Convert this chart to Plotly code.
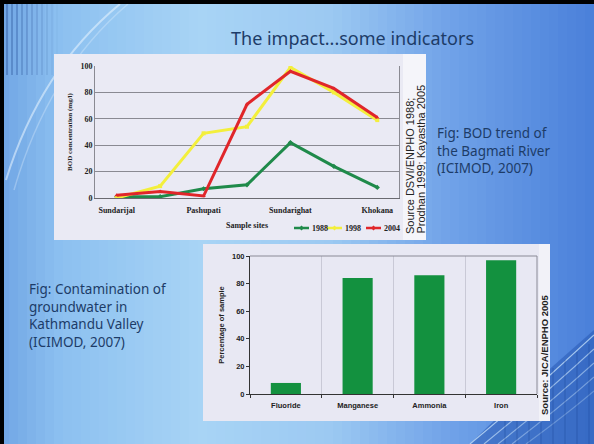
import plotly.graph_objects as go

# ---------------- data ----------------
site_points = ["Sundarijal", "Sundarijal-Pashupati", "Pashupati", "Pashupati-Sundarighat",
               "Sundarighat", "Sundarighat-Khokana", "Khokana"]
site_labels = ["Sundarijal", "Pashupati", "Sundarighat", "Khokana"]
years = ["1988", "1998", "2004"]
bod_1988 = [1, 1, 7, 10, 42, 24, 8]
bod_1998 = [0, 9, 49, 54, 99, 80, 59]
bod_2004 = [2, 5, 1.5, 71, 96, 83, 61]
bod_ticks = [0, 20, 40, 60, 80, 100]

contaminants = ["Fluoride", "Manganese", "Ammonia", "Iron"]
pct_samples = [8, 84, 86, 97]
pct_ticks = [0, 20, 40, 60, 80, 100]

W, H = 594, 444
year_colors = ["#1f8a4a", "#f3ef3c", "#e0262a"]


def px(x):
    return x / W


def py(y):
    return 1 - y / H


def lerp_color(stops, x):
    for (x0, c0), (x1, c1) in zip(stops, stops[1:]):
        if x0 <= x <= x1:
            t = (x - x0) / (x1 - x0)
            return "rgb(%d,%d,%d)" % tuple(round(a + (b - a) * t) for a, b in zip(c0, c1))
    return "rgb(%d,%d,%d)" % stops[-1][1]


bg_stops = [(0, (112, 165, 228)), (60, (140, 192, 240)), (200, (168, 212, 245)),
            (330, (156, 201, 242)), (450, (112, 162, 232)), (594, (74, 128, 218))]

shapes = []
N = 66
for i in range(N):
    x0 = W * i / N
    x1 = W * (i + 1) / N
    shapes.append(dict(type="rect", xref="paper", yref="paper", layer="below",
                       x0=px(x0), x1=px(x1) + 0.002, y0=0, y1=1,
                       fillcolor=lerp_color(bg_stops, (x0 + x1) / 2), line=dict(width=0)))

# top-left vertical stripes
for i, xs in enumerate(range(6, 60, 5)):
    op = 0.35 * (1 - i / 11)
    shapes.append(dict(type="rect", xref="paper", yref="paper", layer="below",
                       x0=px(xs), x1=px(xs + 2), y0=py(75), y1=py(4),
                       fillcolor="rgba(30,70,140,%.2f)" % op, line=dict(width=0)))


def path_px(cmds):
    out = []
    for c in cmds:
        if isinstance(c, str):
            out.append(c)
        else:
            out.append("%.4f,%.4f" % (px(c[0]), py(c[1])))
    return " ".join(out)


# arc decoration
shapes.append(dict(type="path", xref="paper", yref="paper", layer="below",
                   path=path_px(["M", (120, 4), "Q", (40, 70), (6, 180)]),
                   line=dict(color="rgba(235,245,255,0.55)", width=2)))
shapes.append(dict(type="path", xref="paper", yref="paper", layer="below",
                   path=path_px(["M", (128, 4), "Q", (48, 72), (14, 190)]),
                   line=dict(color="rgba(235,245,255,0.3)", width=1.5)))

# bottom-right decoration
shapes.append(dict(type="path", xref="paper", yref="paper", layer="below",
                   path=path_px(["M", (470, 444), "Q", (530, 385), (594, 330), "L", (594, 444), "Z"]),
                   fillcolor="rgba(40,90,180,0.55)", line=dict(width=0)))
for k in range(5):
    shapes.append(dict(type="path", xref="paper", yref="paper", layer="below",
                       path=path_px(["M", (470 + 14 * k, 444), "Q", (535 + 8 * k, 390 + 6 * k), (594, 335 + 14 * k)]),
                       line=dict(color="rgba(210,235,255,%.2f)" % (0.7 - 0.1 * k), width=1.2)))
for k in range(8):
    xs = 505 + 12 * k
    shapes.append(dict(type="line", xref="paper", yref="paper", layer="below",
                       x0=px(xs), x1=px(xs), y0=py(444), y1=py(400 - 8 * k),
                       line=dict(color="rgba(20,60,140,0.35)", width=1)))

# black slide frame
shapes.append(dict(type="rect", xref="paper", yref="paper", layer="below",
                   x0=0, x1=1, y0=py(4), y1=1, fillcolor="black", line=dict(width=0)))
shapes.append(dict(type="rect", xref="paper", yref="paper", layer="below",
                   x0=0, x1=px(4), y0=0, y1=1, fillcolor="black", line=dict(width=0)))

# chart panels
shapes.append(dict(type="rect", xref="paper", yref="paper", layer="below",
                   x0=px(54), x1=px(426), y0=py(240), y1=py(54),
                   fillcolor="#eaeaf4", line=dict(width=0)))
shapes.append(dict(type="rect", xref="paper", yref="paper", layer="below",
                   x0=px(403), x1=px(426), y0=py(240), y1=py(54),
                   fillcolor="#f5f5fa", line=dict(width=0)))
shapes.append(dict(type="rect", xref="paper", yref="paper", layer="below",
                   x0=px(203), x1=px(550), y0=py(421), y1=py(244),
                   fillcolor="#e8e8f3", line=dict(width=0)))
shapes.append(dict(type="rect", xref="paper", yref="paper", layer="below",
                   x0=px(539), x1=px(550), y0=py(421), y1=py(244),
                   fillcolor="#f2f2f8", line=dict(width=0)))

# bar chart top/right frame
shapes.append(dict(type="path", xref="x2 domain", yref="y2 domain", layer="above",
                   path="M 0,1 L 1,1 L 1,0", line=dict(color="#8a8a96", width=1)))

serif_b = dict(family="Liberation Serif", size=8, color="#222222", weight="bold")
sans_t = dict(family="Liberation Sans", size=7.5, color="#222222", weight="bold")

# compact legend for the line chart (Excel style: short line + marker + label)
legend_x = [294, 327, 366]
legend_y = 228
annots = []
for yr, col, lx in zip(years, year_colors, legend_x):
    shapes.append(dict(type="line", xref="paper", yref="paper", layer="above",
                       x0=px(lx), x1=px(lx + 15), y0=py(legend_y), y1=py(legend_y),
                       line=dict(color=col, width=2.5)))
    shapes.append(dict(type="path", xref="paper", yref="paper", layer="above",
                       path=path_px(["M", (lx + 7.5, legend_y - 2.5), "L", (lx + 10, legend_y),
                                     "L", (lx + 7.5, legend_y + 2.5), "L", (lx + 5, legend_y), "Z"]),
                       fillcolor=col, line=dict(width=0)))
    annots.append(dict(text=yr, x=px(lx + 16), y=py(legend_y), xanchor="left", yanchor="middle",
                       font=serif_b))

fig = go.Figure()

for yr, vals, col, sym in zip(years, [bod_1988, bod_1998, bod_2004], year_colors,
                              ["diamond", "square", "triangle-up"]):
    fig.add_trace(go.Scatter(x=site_points, y=vals, name=yr, mode="lines+markers",
                             line=dict(color=col, width=3), marker=dict(size=4, symbol=sym),
                             showlegend=False, xaxis="x", yaxis="y"))

fig.add_trace(go.Bar(x=contaminants, y=pct_samples, marker=dict(color="#13913f", line=dict(width=0)),
                     width=0.42, showlegend=False, xaxis="x2", yaxis="y2"))

fig.update_layout(
    width=W, height=H,
    margin=dict(l=0, r=0, t=0, b=0, autoexpand=False),
    paper_bgcolor="#8cc0f0",
    plot_bgcolor="rgba(0,0,0,0)",
    shapes=shapes,
    showlegend=False,
    xaxis=dict(domain=[px(95), px(399)], anchor="y", type="category", automargin=False,
               categoryorder="array", categoryarray=site_points,
               range=[-0.5, 6.5], tickvals=[site_points[0], site_points[2], site_points[4], site_points[6]],
               ticktext=site_labels, showgrid=False, showline=True, linecolor="#6a6a70", linewidth=1,
               ticks="", tickfont=serif_b, zeroline=False, ticklabelstandoff=4,
               title=dict(text="Sample sites", font=serif_b, standoff=8)),
    yaxis=dict(domain=[py(198), py(66)], anchor="x", range=[0, 100], tickvals=bod_ticks, automargin=False,
               showgrid=True, gridcolor="#8a8a92", gridwidth=1, showline=True, linecolor="#8a8a92",
               mirror=True, ticks="", tickfont=serif_b, zeroline=False,
               title=dict(text="BOD concentration (mg/l)", font=dict(family="Liberation Serif", size=7,
                                                                 color="#222222", weight="bold"),
                          standoff=6)),
    xaxis2=dict(domain=[px(250), px(537)], anchor="y2", type="category", automargin=False,
                range=[-0.5, 3.5], tickson="boundaries", ticks="outside", ticklen=3,
                tickcolor="#333333", showgrid=True, gridcolor="#c9c9d6", showline=True,
                linecolor="#333333", linewidth=1, ticklabelstandoff=4,
                tickfont=sans_t),
    yaxis2=dict(domain=[py(394), py(256)], anchor="x2", range=[0, 100], tickvals=pct_ticks, automargin=False,
                showgrid=False, showline=True, linecolor="#333333", ticks="outside", ticklen=3,
                tickcolor="#333333", zeroline=False,
                tickfont=sans_t,
                title=dict(text="Percentage of sample", font=sans_t, standoff=6)),
)

text_col = "#1d3c68"
annots += [
    dict(text="The impact...some indicators", x=px(352), y=py(38), xanchor="center", yanchor="middle",
         font=dict(family="Noto Sans", size=18, color=text_col)),
    dict(text="Fig: BOD trend of<br>the Bagmati River<br>(ICIMOD, 2007)", x=px(435), y=py(150),
         xanchor="left", yanchor="middle", align="left",
         font=dict(family="Noto Sans", size=13.5, color=text_col)),
    dict(text="Fig: Contamination of<br>groundwater in<br>Kathmandu Valley<br>(ICIMOD, 2007)",
         x=px(27), y=py(315), xanchor="left", yanchor="middle", align="left",
         font=dict(family="Noto Sans", size=13.5, color=text_col)),
    dict(text="Source DSVI/ENPHO 1988;", x=px(410), y=py(236), xanchor="center", yanchor="bottom",
         textangle=-90, font=dict(family="Liberation Sans", size=11, color="#222222")),
    dict(text="Prodhan 1999; Kayastha 2005", x=px(420), y=py(236), xanchor="center", yanchor="bottom",
         textangle=-90, font=dict(family="Liberation Sans", size=11, color="#222222")),
    dict(text="Source: JICA/ENPHO 2005", x=px(544), y=py(355),
         xanchor="center", yanchor="middle", textangle=-90,
         font=dict(family="Liberation Sans", size=9.5, color="#222222", weight="bold")),
]
for a in annots:
    a.update(xref="paper", yref="paper", showarrow=False)
fig.update_layout(annotations=annots)

fig.write_html(
    "out.html",
    config={"displayModeBar": False},
    post_script=("document.body.style.margin='0';document.body.style.overflow='hidden';"
                 "document.body.style.background='#7fb0e8';"),
)
